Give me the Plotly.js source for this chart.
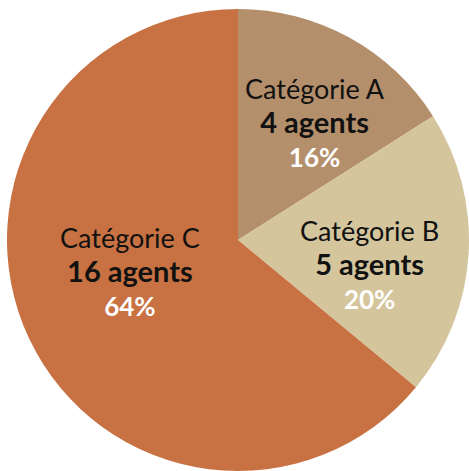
<!DOCTYPE html>
<html>
<head>
<meta charset="utf-8">
<script src="https://cdn.plot.ly/plotly-3.0.1.min.js"></script>
<style>
  html, body { margin: 0; padding: 0; background: #ffffff; }
  #chart { width: 469px; height: 471px; }
</style>
</head>
<body>
<div id="chart"></div>
<script>
/* données */
const categories = ["Catégorie A", "Catégorie B", "Catégorie C"];
const agents = [4, 5, 16];
const couleurs = ["#b48f6b", "#d4c59d", "#c87142"];

// position des étiquettes (fraction du papier)
const posEtiquettes = [[0.667, 0.755], [0.784, 0.448], [0.266, 0.432]];

const total = agents.reduce((s, v) => s + v, 0);

const trace = {
  type: "pie",
  labels: categories,
  values: agents,
  textinfo: "none",
  sort: false,
  direction: "clockwise",
  rotation: 0,
  marker: { colors: couleurs, line: { width: 0 } },
  hoverinfo: "none",
  showlegend: false
};

const annotations = categories.map((c, i) => ({
  xref: "paper",
  yref: "paper",
  x: posEtiquettes[i][0],
  y: posEtiquettes[i][1],
  xanchor: "center",
  yanchor: "middle",
  showarrow: false,
  align: "center",
  text: "<span style='font-size:27px'>" + c + "</span><br>" +
    "<span style='font-size:29px'><b>" + agents[i] + " agents</b></span><br>" +
    "<span style='color:#ffffff'><b>" + Math.round(agents[i] / total * 100) + "%</b></span>",
  font: { family: "Lato, 'Open Sans', sans-serif", size: 26, color: "#111111" }
}));

const layout = {
  width: 469,
  height: 471,
  margin: { l: 7, r: 0, t: 9, b: 0 },
  paper_bgcolor: "#ffffff",
  showlegend: false,
  annotations: annotations
};

Plotly.newPlot("chart", [trace], layout, { displayModeBar: false, staticPlot: true });
</script>
</body>
</html>
